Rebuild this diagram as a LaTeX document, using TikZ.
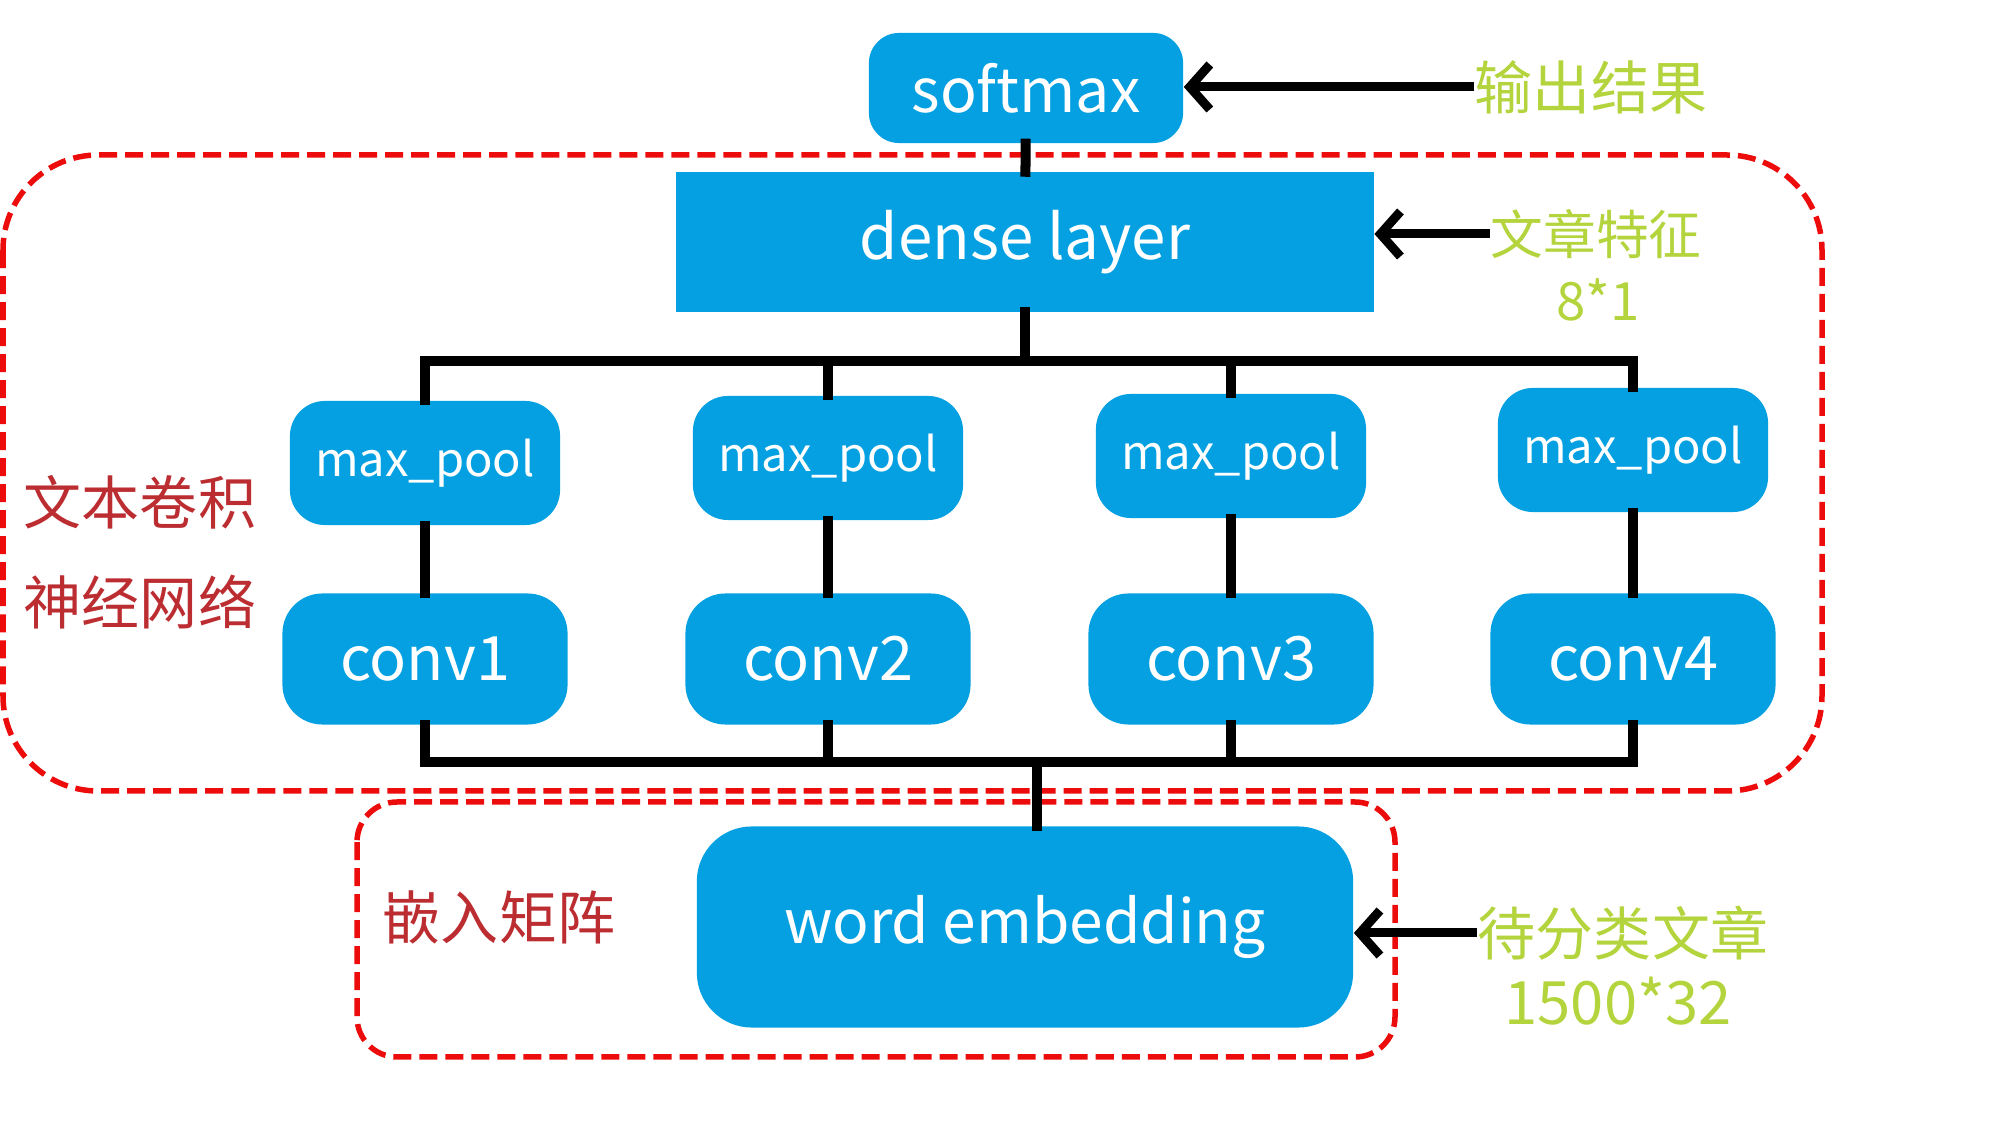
\documentclass[tikz,border=0pt]{standalone}
\usepackage{fontspec}
\setmainfont{Noto Sans CJK SC}
\usetikzlibrary{arrows.meta}
\definecolor{azul}{RGB}{4,160,225}
\definecolor{rojolinea}{RGB}{236,12,12}
\definecolor{rojotexto}{RGB}{188,45,50}
\definecolor{verde}{RGB}{180,212,62}
\tikzset{
    caja/.style={fill=azul,text=white,inner sep=0pt,rounded corners=0.35cm},
    pool/.style={caja,minimum width=2.7cm,minimum height=1.24cm,font=\fontsize{13.4}{15}\selectfont},
    conv/.style={caja,minimum width=2.85cm,minimum height=1.31cm,rounded corners=0.4cm,font=\fontsize{17.4}{19}\selectfont},
    cable/.style={line width=0.1cm,line cap=rect},
    flecha/.style={line width=0.09cm,-{Straight Barb[length=0.2cm,width=0.45cm]}},
    marco/.style={rojolinea,line width=0.055cm,dash pattern=on 0.18cm off 0.08cm},
    rojo/.style={text=rojotexto,inner sep=0pt,font=\fontsize{16.5}{18}\selectfont},
    verde/.style={text=verde,inner sep=0pt,font=\fontsize{16.5}{18}\selectfont}
}
\begin{document}
\begin{tikzpicture}[x=0.01cm,y=-0.01cm]
\useasboundingbox (0,0) rectangle (2005,1125);
    %Marcos punteados
    \draw[marco,rounded corners=0.95cm] (3,155) rectangle (1822,791);
    \draw[marco,rounded corners=0.4cm] (357,802) rectangle (1395,1057);

    %Cajas
    \node[caja,minimum width=3.14cm,minimum height=1.1cm,rounded corners=0.3cm,font=\fontsize{17.3}{19}\selectfont] (softmax) at (1026,88) {softmax};
    \node[caja,sharp corners,minimum width=6.97cm,minimum height=1.39cm,font=\fontsize{17.6}{19}\selectfont] (dense) at (1025,242) {dense layer};
    \foreach \i/\x/\y in {1/425/463,2/828/458,3/1231/456,4/1633/450}{
        \node[pool] (pool\i) at (\x,\y) {max\_pool};
        \node[conv] (conv\i) at (\x,659) {conv\i};
    }
    \node[caja,minimum width=6.56cm,minimum height=2.01cm,rounded corners=0.55cm,font=\fontsize{17.2}{19}\selectfont] (emb) at (1025,927) {word embedding};

    %Buses
    \coordinate (busA) at (0,361);
    \coordinate (busB) at (0,762);
    \draw[cable] (softmax) -- (dense);
    \draw[cable] (dense) -- (dense |- busA);
    \draw[cable] (pool1 |- busA) -- (pool4 |- busA);
    \draw[cable] (conv1 |- busB) -- (conv4 |- busB);
    \foreach \i in {1,...,4}{
        \draw[cable] (pool\i |- busA) -- (pool\i);
        \draw[cable] (pool\i) -- (conv\i);
        \draw[cable] (conv\i) -- (conv\i |- busB);
    }
    \draw[cable] ([xshift=0.12cm]emb.north |- busB) -- ([xshift=0.12cm]emb.north);

    %Etiquetas
    \node[rojo] (cnnA) at (140,502) {文本卷积};
    \node[rojo] (cnnB) at (140,602) {神经网络};
    \node[rojo] (embtxt) at (499,917) {嵌入矩阵};
    \node[verde] (salida) at (1591,87) {输出结果};
    \node[verde,font=\fontsize{15}{17}\selectfont] (feat) at (1596,234) {文章特征};
    \node[verde,font=\fontsize{15}{17}\selectfont] (featdim) at (1598,300) {8*1};
    \node[verde] (entrada) at (1623,933) {待分类文章};
    \node[verde,font=\fontsize{17}{19}\selectfont] (entradadim) at (1618,1001) {1500*32};
    \draw[flecha] (salida.west) -- (salida.west -| softmax.east);
    \draw[flecha] (feat.west) -- (feat.west -| dense.east);
    \draw[flecha] (entrada.west) -- (entrada.west -| emb.east);
\end{tikzpicture}
\end{document}
